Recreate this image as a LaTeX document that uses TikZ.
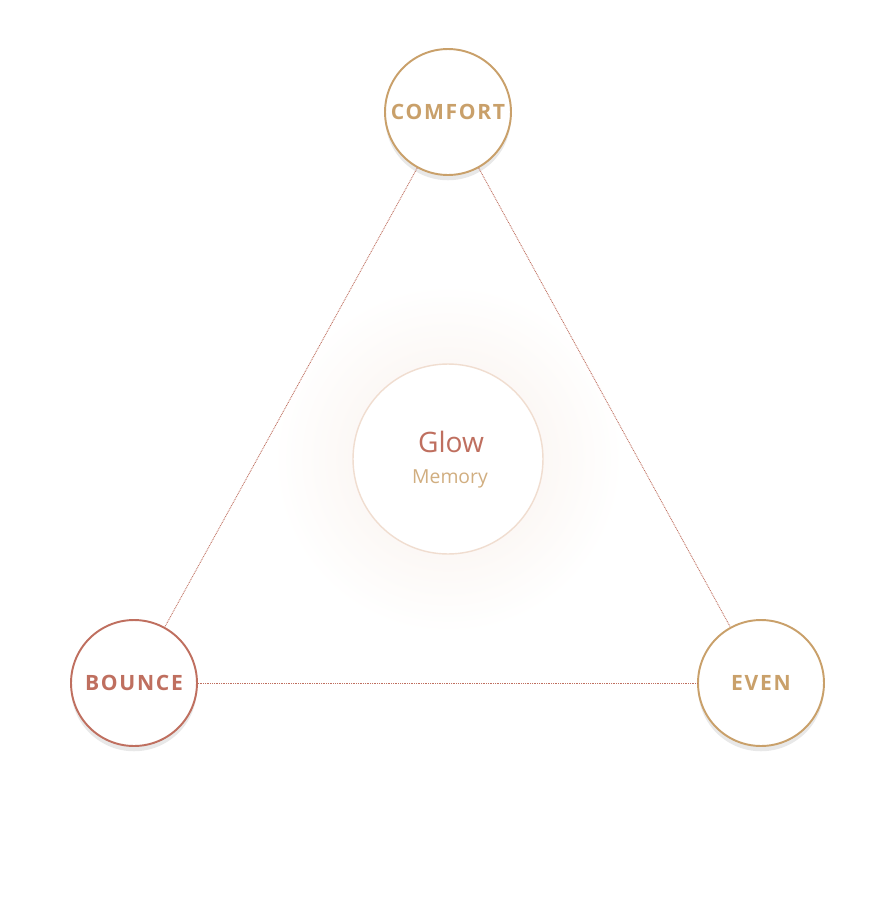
\documentclass[tikz,border=0pt]{standalone}
\usepackage{fontspec}
\setmainfont{Open Sans}
\usetikzlibrary{shadows}
\definecolor{gold}{HTML}{C9A06A}
\definecolor{rust}{HTML}{BF6F5F}
\definecolor{blush}{HTML}{F0DDD0}

\begin{document}
\begin{tikzpicture}[x=0.02cm,y=-0.02cm,
  corner node/.style={circle,fill=white,draw,line width=1.1pt,minimum size=2.52cm,
    inner sep=0pt,font=\addfontfeature{LetterSpace=8}\fontsize{12}{14}\selectfont\bfseries,
    drop shadow={opacity=0.18,shadow xshift=0pt,shadow yshift=-3pt}},
  gold node/.style={corner node,draw=gold,text=gold},
  rust node/.style={corner node,draw=rust,text=rust},
  link/.style={rust,line width=0.5pt,dash pattern=on 0.5pt off 0.5pt}]
  \useasboundingbox (0,0) rectangle (896,907);
  % faint glow behind the middle
  \shade[inner color=blush!45,outer color=white] (448,459) circle (175);
  \node[circle,fill=white,draw=blush,line width=0.8pt,minimum size=3.8cm] (glow) at (448,459) {};
  \node[text=rust,font=\fontsize{16}{18}\selectfont] (title) at (451,442) {Glow};
  \node[text=gold!85,font=\fontsize{11}{13}\selectfont] (sub) at (450,479) {Memory};

  \node[gold node] (comfort) at (448,112) {COMFORT};
  \node[rust node] (bounce) at (134,683) {BOUNCE};
  \node[gold node] (even) at (761,683) {EVEN};

  \draw[link] (comfort) -- (bounce);
  \draw[link] (comfort) -- (even);
  \draw[link] (bounce) -- (even);
\end{tikzpicture}
\end{document}
